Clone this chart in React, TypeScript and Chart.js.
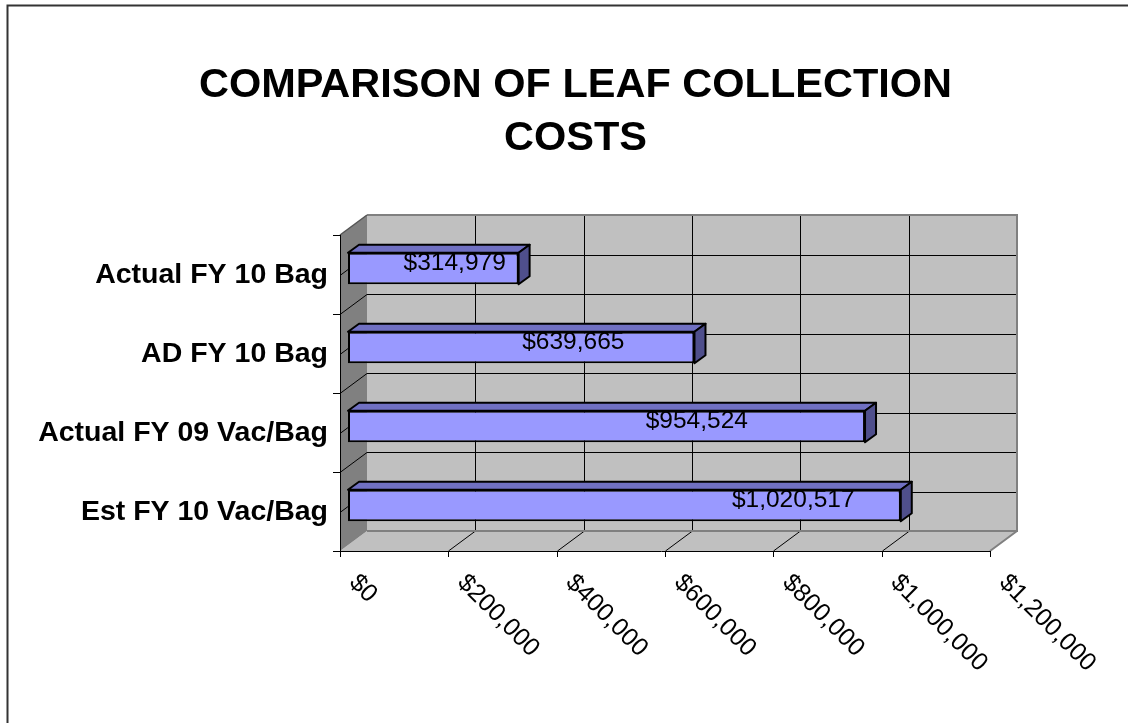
import React, { useEffect, useRef } from "react";
import { Chart, registerables } from "chart.js";

Chart.register(...registerables);

const categories = ["Actual FY 10 Bag", "AD FY 10 Bag", "Actual FY 09 Vac/Bag", "Est FY 10 Vac/Bag"];
const costs = [314979, 639665, 954524, 1020517];
const valueLabels = ["$314,979", "$639,665", "$954,524", "$1,020,517"];
// where each value label sits along the bar (dollar units)
const labelCenters = [197000, 416000, 644000, 822000];
const tickValues = [0, 200000, 400000, 600000, 800000, 1000000, 1200000];
const tickLabels = ["$0", "$200,000", "$400,000", "$600,000", "$800,000", "$1,000,000", "$1,200,000"];
const titleLines = ["COMPARISON OF LEAF COLLECTION", "COSTS"];

const FONT = '"Liberation Sans", Arial, Helvetica, sans-serif';
const WALL_DX = 27;
const WALL_DY = -20;
const BAR_DX = 8;
const BAR_DY = -6;
const DEPTH_DX = 11;
const DEPTH_DY = -8;

const scenePlugin = {
  id: "scene3d",
  beforeDatasetsDraw(chart: any) {
    const { ctx, chartArea: a, scales } = chart;
    const xs = scales.x;
    const ys = scales.y;
    const L = a.left, R = a.right, T = a.top, B = a.bottom;
    const n = categories.length;
    const band = (B - T) / n;
    const half = band / 2;

    ctx.save();
    // outer frame
    ctx.strokeStyle = "#333";
    ctx.lineWidth = 2;
    ctx.beginPath();
    ctx.moveTo(7.5, chart.height + 5);
    ctx.lineTo(7.5, 5.5);
    ctx.lineTo(chart.width + 5, 5.5);
    ctx.stroke();

    // title
    ctx.fillStyle = "#000";
    ctx.font = `bold 41.5px ${FONT}`;
    ctx.textAlign = "center";
    ctx.textBaseline = "alphabetic";
    ctx.fillText(titleLines[0], 575.5, 97);
    ctx.fillText(titleLines[1], 575.5, 150);

    // back wall
    ctx.fillStyle = "#C0C0C0";
    ctx.fillRect(L + WALL_DX, T + WALL_DY, R - L, B - T);
    // floor
    ctx.beginPath();
    ctx.moveTo(L, B);
    ctx.lineTo(R, B);
    ctx.lineTo(R + WALL_DX, B + WALL_DY);
    ctx.lineTo(L + WALL_DX, B + WALL_DY);
    ctx.closePath();
    ctx.fill();
    // left wall
    ctx.fillStyle = "#808080";
    ctx.beginPath();
    ctx.moveTo(L, T);
    ctx.lineTo(L + WALL_DX, T + WALL_DY);
    ctx.lineTo(L + WALL_DX, B + WALL_DY);
    ctx.lineTo(L, B);
    ctx.closePath();
    ctx.fill();

    // grid lines
    ctx.strokeStyle = "#000";
    ctx.lineWidth = 1;
    ctx.beginPath();
    tickValues.forEach((v, i) => {
      if (i === 0 || i === tickValues.length - 1) return;
      const px = Math.round(xs.getPixelForValue(v)) + WALL_DX + 0.5;
      ctx.moveTo(px, T + WALL_DY);
      ctx.lineTo(px, B + WALL_DY);
      ctx.moveTo(px, B + WALL_DY);
      ctx.lineTo(px - WALL_DX, B);
    });
    for (let k = 1; k < n * 2; k++) {
      const py = Math.round(T + k * half) + 0.5;
      ctx.moveTo(L + WALL_DX, py + WALL_DY);
      ctx.lineTo(R + WALL_DX, py + WALL_DY);
      ctx.moveTo(L, py);
      ctx.lineTo(L + WALL_DX, py + WALL_DY);
    }
    ctx.stroke();

    // wall edges
    ctx.strokeStyle = "#808080";
    ctx.lineWidth = 2;
    ctx.beginPath();
    ctx.moveTo(L + WALL_DX, T + WALL_DY);
    ctx.lineTo(R + WALL_DX, T + WALL_DY);
    ctx.lineTo(R + WALL_DX, B + WALL_DY);
    ctx.lineTo(L + WALL_DX, B + WALL_DY);
    ctx.moveTo(R + WALL_DX, B + WALL_DY);
    ctx.lineTo(R, B);
    ctx.stroke();
    ctx.strokeStyle = "#555";
    ctx.lineWidth = 1.5;
    ctx.beginPath();
    ctx.moveTo(L, T);
    ctx.lineTo(L + WALL_DX, T + WALL_DY);
    ctx.stroke();

    // front axes and ticks
    ctx.strokeStyle = "#000";
    ctx.lineWidth = 1;
    ctx.beginPath();
    ctx.moveTo(L + 0.5, T);
    ctx.lineTo(L + 0.5, B + 6);
    ctx.moveTo(L - 7, B + 0.5);
    ctx.lineTo(R, B + 0.5);
    for (let k = 0; k <= n; k++) {
      const py = Math.round(T + k * band) + 0.5;
      ctx.moveTo(L - 7, py);
      ctx.lineTo(L, py);
    }
    tickValues.forEach((v) => {
      const px = Math.round(xs.getPixelForValue(v)) + 0.5;
      ctx.moveTo(px, B);
      ctx.lineTo(px, B + 6);
    });
    ctx.stroke();

    // category labels
    ctx.fillStyle = "#000";
    ctx.font = `bold 28.5px ${FONT}`;
    ctx.textAlign = "right";
    ctx.textBaseline = "middle";
    categories.forEach((c, i) => {
      ctx.fillText(c, L - 12, ys.getPixelForValue(i) + 1);
    });

    // value axis labels, rotated 45 degrees
    ctx.font = `25px ${FONT}`;
    ctx.textAlign = "left";
    ctx.textBaseline = "middle";
    tickValues.forEach((v, i) => {
      const px = xs.getPixelForValue(v);
      ctx.save();
      ctx.translate(px + 13, B + 28);
      ctx.rotate(Math.PI / 4);
      ctx.fillText(tickLabels[i], 0, 0);
      ctx.restore();
    });
    ctx.restore();

    // bar depth faces (top and end) drawn behind the front faces
    ctx.save();
    ctx.translate(BAR_DX, BAR_DY);
    const meta = chart.getDatasetMeta(0);
    ctx.lineWidth = 2;
    ctx.strokeStyle = "#000";
    ctx.lineJoin = "round";
    meta.data.forEach((el: any) => {
      const { x, y, base, height } = el.getProps(["x", "y", "base", "height"], true);
      const top = y - height / 2;
      const bottom = y + height / 2;
      ctx.fillStyle = "#7070C2";
      ctx.beginPath();
      ctx.moveTo(base, top);
      ctx.lineTo(base + DEPTH_DX, top + DEPTH_DY);
      ctx.lineTo(x + DEPTH_DX, top + DEPTH_DY);
      ctx.lineTo(x, top);
      ctx.closePath();
      ctx.fill();
      ctx.stroke();
      ctx.fillStyle = "#4F4F8C";
      ctx.beginPath();
      ctx.moveTo(x, top);
      ctx.lineTo(x + DEPTH_DX, top + DEPTH_DY);
      ctx.lineTo(x + DEPTH_DX, bottom + DEPTH_DY);
      ctx.lineTo(x, bottom);
      ctx.closePath();
      ctx.fill();
      ctx.stroke();
    });
  },
  afterDatasetsDraw(chart: any) {
    const { ctx, scales } = chart;
    ctx.restore();
    ctx.save();
    ctx.fillStyle = "#000";
    ctx.font = `24.5px ${FONT}`;
    ctx.textAlign = "center";
    ctx.textBaseline = "middle";
    valueLabels.forEach((t, i) => {
      const px = scales.x.getPixelForValue(labelCenters[i]) + BAR_DX;
      const py = scales.y.getPixelForValue(i) + BAR_DY - 5;
      ctx.fillText(t, px, py);
    });
    ctx.restore();
  },
};

export default function App() {
  const canvasRef = useRef<HTMLCanvasElement | null>(null);

  useEffect(() => {
    if (!canvasRef.current) return;
    const chart = new Chart(canvasRef.current, {
      type: "bar",
      data: {
        labels: categories,
        datasets: [
          {
            label: "Cost",
            data: costs,
            backgroundColor: "#9999FF",
            borderColor: "#000",
            borderWidth: 2,
            borderSkipped: false,
            barPercentage: 0.4,
            categoryPercentage: 1,
          },
        ],
      },
      options: {
        indexAxis: "y",
        responsive: false,
        animation: false,
        devicePixelRatio: 1,
        layout: { padding: { left: 340, right: 138, top: 235, bottom: 172 } },
        scales: {
          x: { type: "linear", min: 0, max: 1200000, display: false },
          y: { type: "category", display: false },
        },
        plugins: {
          legend: { display: false },
          tooltip: { enabled: false },
          title: { display: false },
        },
      },
      plugins: [scenePlugin],
    });
    return () => chart.destroy();
  }, []);

  return (
    <div style={{ position: "fixed", left: 0, top: 0, width: 1128, height: 723, background: "#fff" }}>
      <canvas ref={canvasRef} width={1128} height={723} style={{ display: "block", width: 1128, height: 723 }} />
    </div>
  );
}
